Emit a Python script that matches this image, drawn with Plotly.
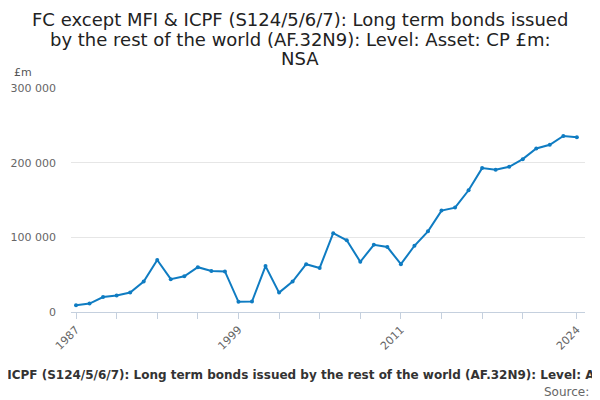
import plotly.graph_objects as go

years = list(range(1987, 2025))
values = [
    9000, 11300, 20000, 22000, 26000, 40700, 69600, 44000, 47800, 60000,
    55000, 54400, 13600, 14000, 61500, 26000, 40700, 64000, 59000, 105600,
    96000, 67300, 90000, 87000, 64000, 88700, 108000, 135800, 139800, 163000,
    192700, 190400, 194400, 204700, 219000, 224000, 235800, 234000,
]

tick_years = [1987, 1990, 1993, 1996, 1999, 2002, 2005, 2008, 2011, 2014, 2017, 2020, 2024]
tick_labels = ["1987", "", "", "", "1999", "", "", "", "2011", "", "", "", "2024"]
y_ticks = [0, 100000, 200000, 300000]

title_lines = [
    "FC except MFI & ICPF (S124/5/6/7): Long term bonds issued",
    "by the rest of the world (AF.32N9): Level: Asset: CP £m:",
    "NSA",
]
caption = ("FC except MFI & ICPF (S124/5/6/7): Long term bonds issued by the rest of the world "
           "(AF.32N9): Level: Asset: CP £m: NSA")
source = "Source: Office for National Statistics"

# the page puts the figure 8px in from the top-left corner
W, H = 600, 400
L, R, T, B = 63, 23, 80, 96
pw, ph = W - L - R, H - T - B


def px(x):
    return (x - L) / pw


def py(y):
    return (H - B - y) / ph


fig = go.Figure()
fig.add_trace(go.Scatter(
    x=years, y=values, mode="lines+markers",
    line=dict(color="#0f7cc2", width=2),
    marker=dict(color="#0f7cc2", size=4),
    hoverinfo="skip",
))

annotations = []
for i, line in enumerate(title_lines):
    annotations.append(dict(
        text=line, xref="paper", yref="paper", x=px(292), y=py(11 + 20 * i),
        xanchor="center", yanchor="middle", showarrow=False,
        font=dict(size=18, color="#222222"),
    ))
annotations += [
    dict(text="£m", xref="paper", yref="paper", x=px(4), y=py(65),
         xanchor="left", yanchor="middle", showarrow=False,
         font=dict(size=11, color="#555555")),
    dict(text="<b>" + caption + "</b>", xref="paper", yref="paper", x=px(294), y=py(367),
         xanchor="center", yanchor="middle", showarrow=False,
         font=dict(size=12, color="#333333")),
    dict(text=source, xref="paper", yref="paper", x=px(534), y=py(384),
         xanchor="left", yanchor="middle", showarrow=False,
         font=dict(size=12, color="#666666")),
]

fig.update_layout(
    width=W, height=H,
    margin=dict(l=L, r=R, t=T, b=B),
    paper_bgcolor="white", plot_bgcolor="white",
    font=dict(family="DejaVu Sans", color="#333333"),
    separators=". ",
    showlegend=False,
    annotations=annotations,
)

fig.update_xaxes(
    range=[1986.63, 2024.6], automargin=False,
    tickmode="array", tickvals=tick_years, ticktext=tick_labels,
    tickangle=-45, ticks="outside", ticklen=6, tickcolor="#c5d0de",
    showline=True, linecolor="#c5d0de", linewidth=1,
    showgrid=False, zeroline=False,
    tickfont=dict(size=11, color="#666666"),
)
fig.update_yaxes(
    range=[0, 300000], automargin=False,
    tickmode="array", tickvals=y_ticks, tickformat=",d",
    showgrid=True, gridcolor="#e6e6e6", gridwidth=1,
    zeroline=False, showline=False, ticks="", ticklabelstandoff=14,
    tickfont=dict(size=11, color="#666666"),
)

fig.write_html("out.html")
